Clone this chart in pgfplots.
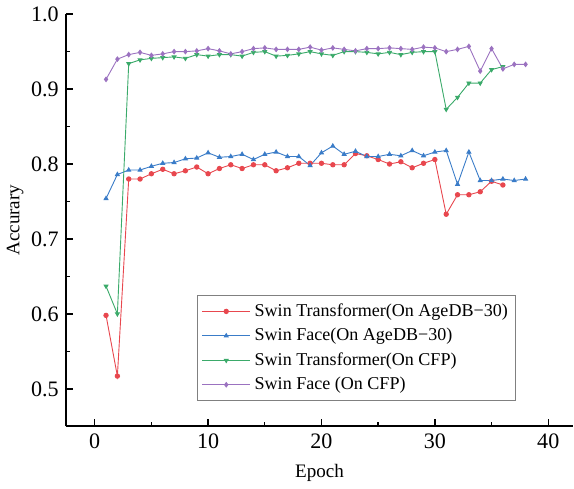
\documentclass[border=0pt]{standalone}
\usepackage{fontspec}
\setmainfont{Liberation Serif}
\usepackage{pgfplots}
\pgfplotsset{compat=1.18}
\definecolor{cRed}{HTML}{E8474E}
\definecolor{cBlue}{HTML}{3A7CC8}
\definecolor{cGreen}{HTML}{3BAA6A}
\definecolor{cPurple}{HTML}{9B72C0}
\begin{document}
\begin{tikzpicture}
\begin{axis}[
    scale only axis,
    width=253pt,height=205.5pt,
    xmin=-2.55,xmax=42.2,
    ymin=0.45,ymax=1.0,
    axis x line*=bottom,axis y line*=left,
    axis line style={line width=0.8pt},
    xtick={0,10,...,40},
    ytick={0.5,0.6,...,1.0},
    yticklabel style={/pgf/number format/.cd,fixed,fixed zerofill,precision=1},
    minor x tick num=1,minor y tick num=1,
    tick align=inside,
    major tick length=3.5pt,minor tick length=2pt,
    tick style={black,line width=0.7pt},
    /pgf/number format/assume math mode=true,
    tick label style={font=\fontsize{11}{12}\selectfont},
    label style={font=\fontsize{9.5}{11}\selectfont},
    xlabel={Epoch},ylabel={Accurary},
    xlabel style={yshift=-1pt},
    ylabel style={yshift=-3pt},
    legend style={at={(0.259,0.061)},anchor=south west,draw=gray,line width=0.6pt,
        font=\fontsize{9}{11}\selectfont,row sep=0.4pt,inner sep=2pt},
    legend cell align=left,
    legend image code/.code={%
        \draw[mark repeat=2,mark phase=2] plot coordinates {(0cm,0cm)(0.42cm,0cm)(0.84cm,0cm)};},
    every axis plot/.append style={line width=0.45pt,mark size=1.1pt},
]
\addplot[cRed,mark=*] coordinates {
(1,0.598)(2,0.517)(3,0.780)(4,0.780)(5,0.787)(6,0.793)(7,0.787)(8,0.791)(9,0.796)(10,0.787)
(11,0.794)(12,0.799)(13,0.794)(14,0.799)(15,0.799)(16,0.791)(17,0.795)(18,0.801)(19,0.801)(20,0.801)
(21,0.799)(22,0.799)(23,0.814)(24,0.811)(25,0.806)(26,0.800)(27,0.803)(28,0.795)(29,0.801)(30,0.806)
(31,0.733)(32,0.759)(33,0.759)(34,0.763)(35,0.777)(36,0.772)};
\addlegendentry{Swin Transformer(On AgeDB−30)}
\addplot[cBlue,mark=triangle*] coordinates {
(1,0.754)(2,0.786)(3,0.792)(4,0.792)(5,0.797)(6,0.801)(7,0.802)(8,0.807)(9,0.808)(10,0.815)
(11,0.809)(12,0.810)(13,0.813)(14,0.806)(15,0.813)(16,0.816)(17,0.810)(18,0.810)(19,0.798)(20,0.815)
(21,0.824)(22,0.813)(23,0.817)(24,0.810)(25,0.810)(26,0.813)(27,0.811)(28,0.818)(29,0.811)(30,0.816)
(31,0.818)(32,0.773)(33,0.816)(34,0.778)(35,0.778)(36,0.780)(37,0.778)(38,0.780)};
\addlegendentry{Swin Face(On AgeDB−30)}
\addplot[cGreen,mark=triangle*,mark options={rotate=180}] coordinates {
(1,0.637)(2,0.600)(3,0.934)(4,0.939)(5,0.941)(6,0.942)(7,0.943)(8,0.941)(9,0.946)(10,0.944)
(11,0.946)(12,0.946)(13,0.944)(14,0.949)(15,0.950)(16,0.944)(17,0.945)(18,0.947)(19,0.950)(20,0.947)
(21,0.945)(22,0.950)(23,0.950)(24,0.949)(25,0.947)(26,0.949)(27,0.946)(28,0.949)(29,0.950)(30,0.950)
(31,0.873)(32,0.889)(33,0.908)(34,0.908)(35,0.926)(36,0.930)};
\addlegendentry{Swin Transformer(On CFP)}
\addplot[cPurple,mark=diamond*] coordinates {
(1,0.913)(2,0.940)(3,0.946)(4,0.949)(5,0.945)(6,0.947)(7,0.950)(8,0.950)(9,0.951)(10,0.954)
(11,0.951)(12,0.947)(13,0.950)(14,0.954)(15,0.955)(16,0.953)(17,0.953)(18,0.953)(19,0.956)(20,0.952)
(21,0.955)(22,0.953)(23,0.951)(24,0.954)(25,0.954)(26,0.955)(27,0.954)(28,0.953)(29,0.956)(30,0.955)
(31,0.950)(32,0.953)(33,0.957)(34,0.924)(35,0.954)(36,0.927)(37,0.933)(38,0.933)};
\addlegendentry{Swin Face (On CFP)}
\end{axis}
\end{tikzpicture}
\end{document}
